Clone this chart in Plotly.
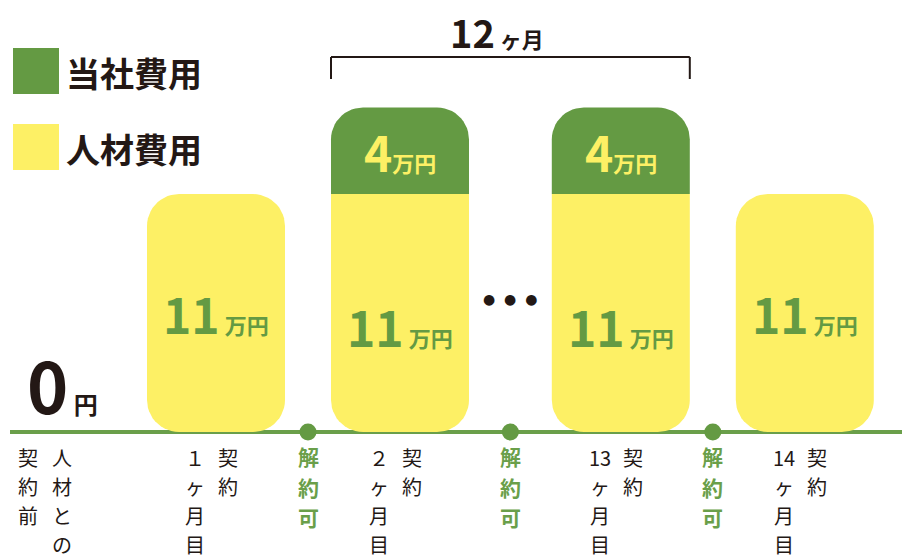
import numpy as np
import plotly.graph_objects as go

# ---------------- data ----------------
STAGE_NAMES = ["契約1ヶ月目", "契約2ヶ月目", "契約13ヶ月目", "契約14ヶ月目"]
TALENT_COST = [11, 11, 11, 11]          # 人材費用 (万円)
COMPANY_COST = [0, 4, 4, 0]             # 当社費用 (万円)
MONTH_TOKENS = [["１", "ヶ", "月", "目"], ["２", "ヶ", "月", "目"],
                ["13", "ヶ", "月", "目"], ["14", "ヶ", "月", "目"]]
CONTRACT_TOKENS = ["契", "約"]
BEFORE_LEFT = ["契", "約", "前"]
BEFORE_RIGHT = ["人", "材", "と", "の"]
CANCEL_TOKENS = ["解", "約", "可"]
LEGEND_LABELS = ["当社費用", "人材費用"]
PERIOD_MONTHS = "12"
PERIOD_UNIT = "ヶ月"
START_VALUE = "0"
START_UNIT = "円"
VALUE_UNIT = "万円"

# ---------------- layout / style constants ----------------
W, H = 902, 558
STAGE_X = [0.0, 1.0, 2.2, 3.2]
CANCEL_X = [0.5, 1.6, 2.7]
BEFORE_X = -0.93
ELLIPSIS_X = 1.6
BAR_W = 0.75
PX_X = 184.0            # px per x unit
PX_Y = 238.0 / 11.0     # px per y unit
BASE_PX = 432           # pixel row of y=0
ORIGIN_X_PX = 216
RADIUS_PX = 32

GREEN = "#649A43"
YELLOW = "#FDF065"
LINE_GREEN = "#6A9F4A"
TEXT = "#231815"
FONT = "Noto Sans CJK JP"

X_RANGE = [-ORIGIN_X_PX / PX_X, (W - ORIGIN_X_PX) / PX_X]
Y_RANGE = [-(H - BASE_PX) / PX_Y, BASE_PX / PX_Y]


def py(px):
    """pixel row -> paper y"""
    return 1 - px / H


def px_x(px):
    return px / W


def rounded_poly(x0, x1, y0, y1, round_bottom, round_top, n=14):
    rx = RADIUS_PX / PX_X
    ry = RADIUS_PX / PX_Y
    xs, ys = [], []

    def arc(cx, cy, a0, a1):
        t = np.linspace(a0, a1, n)
        xs.extend(cx + rx * np.cos(t))
        ys.extend(cy + ry * np.sin(t))

    if round_bottom:
        arc(x0 + rx, y0 + ry, np.pi, 1.5 * np.pi)
        arc(x1 - rx, y0 + ry, 1.5 * np.pi, 2 * np.pi)
    else:
        xs += [x0, x1]
        ys += [y0, y0]
    if round_top:
        arc(x1 - rx, y1 - ry, 0, 0.5 * np.pi)
        arc(x0 + rx, y1 - ry, 0.5 * np.pi, np.pi)
    else:
        xs += [x1, x0]
        ys += [y1, y1]
    xs.append(xs[0])
    ys.append(ys[0])
    return xs, ys


fig = go.Figure()

# bars (stacked: talent cost below, company cost on top)
for i, name in enumerate(STAGE_NAMES):
    cx = STAGE_X[i]
    x0, x1 = cx - BAR_W / 2, cx + BAR_W / 2
    t, c = TALENT_COST[i], COMPANY_COST[i]
    xs, ys = rounded_poly(x0, x1, 0, t, True, c == 0)
    fig.add_trace(go.Scatter(x=xs, y=ys, mode="lines", fill="toself",
                             fillcolor=YELLOW, line=dict(width=0, color=YELLOW),
                             name="人材費用", showlegend=False, hoverinfo="skip"))
    if c > 0:
        xs, ys = rounded_poly(x0, x1, t, t + c, False, True)
        fig.add_trace(go.Scatter(x=xs, y=ys, mode="lines", fill="toself",
                                 fillcolor=GREEN, line=dict(width=0, color=GREEN),
                                 name="当社費用", showlegend=False, hoverinfo="skip"))

# cancel points on the baseline
fig.add_trace(go.Scatter(x=CANCEL_X, y=[0] * len(CANCEL_X), mode="markers",
                         marker=dict(size=17, color=GREEN), showlegend=False,
                         hoverinfo="skip"))

shapes = []
annotations = []

# baseline
shapes.append(dict(type="line", xref="paper", yref="y", x0=px_x(10), x1=1,
                   y0=0, y1=0, line=dict(color=LINE_GREEN, width=4), layer="below"))

# legend swatches + labels
for k, (col, lab) in enumerate(zip([GREEN, YELLOW], LEGEND_LABELS)):
    top = 48 + k * 76
    shapes.append(dict(type="rect", xref="paper", yref="paper",
                       x0=px_x(13), x1=px_x(59), y0=py(top + 46), y1=py(top),
                       fillcolor=col, line=dict(width=0)))
    annotations.append(dict(xref="paper", yref="paper", x=px_x(64), y=py(top + 24),
                            xanchor="left", yanchor="middle", showarrow=False,
                            text=lab, font=dict(family=FONT, size=34, color=TEXT,
                                                weight="bold")))

# bracket over the 12 months
bx0 = STAGE_X[1] - BAR_W / 2
bx1 = STAGE_X[2] + BAR_W / 2
br = dict(color=TEXT, width=2)
shapes.append(dict(type="line", xref="x", yref="paper", x0=bx0, x1=bx1,
                   y0=py(57), y1=py(57), line=br))
shapes.append(dict(type="line", xref="x", yref="paper", x0=bx0, x1=bx0,
                   y0=py(57), y1=py(79), line=br))
shapes.append(dict(type="line", xref="x", yref="paper", x0=bx1, x1=bx1,
                   y0=py(57), y1=py(79), line=br))
annotations.append(dict(xref="x", yref="paper", x=(bx0 + bx1) / 2, y=py(32),
                        xshift=-13, xanchor="center", yanchor="middle", showarrow=False,
                        text=f"{PERIOD_MONTHS}<span style='font-size:22px'> {PERIOD_UNIT}</span>",
                        font=dict(family=FONT, size=38, color=TEXT, weight="bold")))

# value labels
for i in range(len(STAGE_NAMES)):
    t, c = TALENT_COST[i], COMPANY_COST[i]
    annotations.append(dict(xref="x", yref="y", x=STAGE_X[i], y=t / 2,
                            yshift=-13 if c > 0 else 0,
                            xanchor="center", yanchor="middle", showarrow=False,
                            text=f"{t}<span style='font-size:22px'> {VALUE_UNIT}</span>",
                            font=dict(family=FONT, size=48, color=GREEN, weight="bold")))
    if c > 0:
        annotations.append(dict(xref="x", yref="y", x=STAGE_X[i], y=t + c / 2,
                                xanchor="center", yanchor="middle", showarrow=False,
                                text=f"{c}<span style='font-size:22px'>{VALUE_UNIT}</span>",
                                font=dict(family=FONT, size=48, color=YELLOW,
                                          weight="bold")))

# start value "0円"
annotations.append(dict(xref="x", yref="y", x=BEFORE_X, y=0, xshift=-20, yshift=-4,
                        xanchor="left", yanchor="bottom", showarrow=False,
                        text=f"{START_VALUE}<span style='font-size:24px'> {START_UNIT}</span>",
                        font=dict(family=FONT, size=70, color=TEXT, weight="bold")))

# ellipsis
annotations.append(dict(xref="x", yref="y", x=ELLIPSIS_X, y=TALENT_COST[1] / 2,
                        yshift=14, xanchor="center", yanchor="middle", showarrow=False,
                        text="●\u00a0\u00a0●\u00a0\u00a0●",
                        font=dict(family="DejaVu Sans", size=14, color=TEXT)))


def vertical(tokens, x, xshift, row0, pitch, size, color, bold=False):
    """Japanese vertical writing: one character per row."""
    for j, tok in enumerate(tokens):
        annotations.append(dict(xref="x", yref="y", x=x, y=0, xshift=xshift,
                                yshift=-(row0 + j * pitch - BASE_PX),
                                xanchor="center", yanchor="middle", showarrow=False,
                                text=tok, borderpad=0,
                                font=dict(family=FONT, size=size, color=color,
                                          weight="bold" if bold else "normal")))


for i in range(len(STAGE_NAMES)):
    vertical(CONTRACT_TOKENS, STAGE_X[i], 12, 457, 29, 20, TEXT)
    vertical(MONTH_TOKENS[i], STAGE_X[i], -21, 457, 29, 20, TEXT)
vertical(BEFORE_LEFT, BEFORE_X, -17, 457, 29, 20, TEXT)
vertical(BEFORE_RIGHT, BEFORE_X, 17, 457, 29, 20, TEXT)
for cx in CANCEL_X:
    vertical(CANCEL_TOKENS, cx, 0, 456, 30.5, 21, LINE_GREEN, bold=True)

fig.update_layout(
    width=W, height=H, margin=dict(l=0, r=0, t=0, b=0),
    paper_bgcolor="white", plot_bgcolor="white",
    xaxis=dict(range=X_RANGE, visible=False, fixedrange=True),
    yaxis=dict(range=Y_RANGE, visible=False, fixedrange=True),
    shapes=shapes, annotations=annotations, showlegend=False,
    font=dict(family=FONT),
)

fig.write_html("out.html", config={"displayModeBar": False},
               post_script="document.body.style.margin='0';document.body.style.overflow='hidden';")
